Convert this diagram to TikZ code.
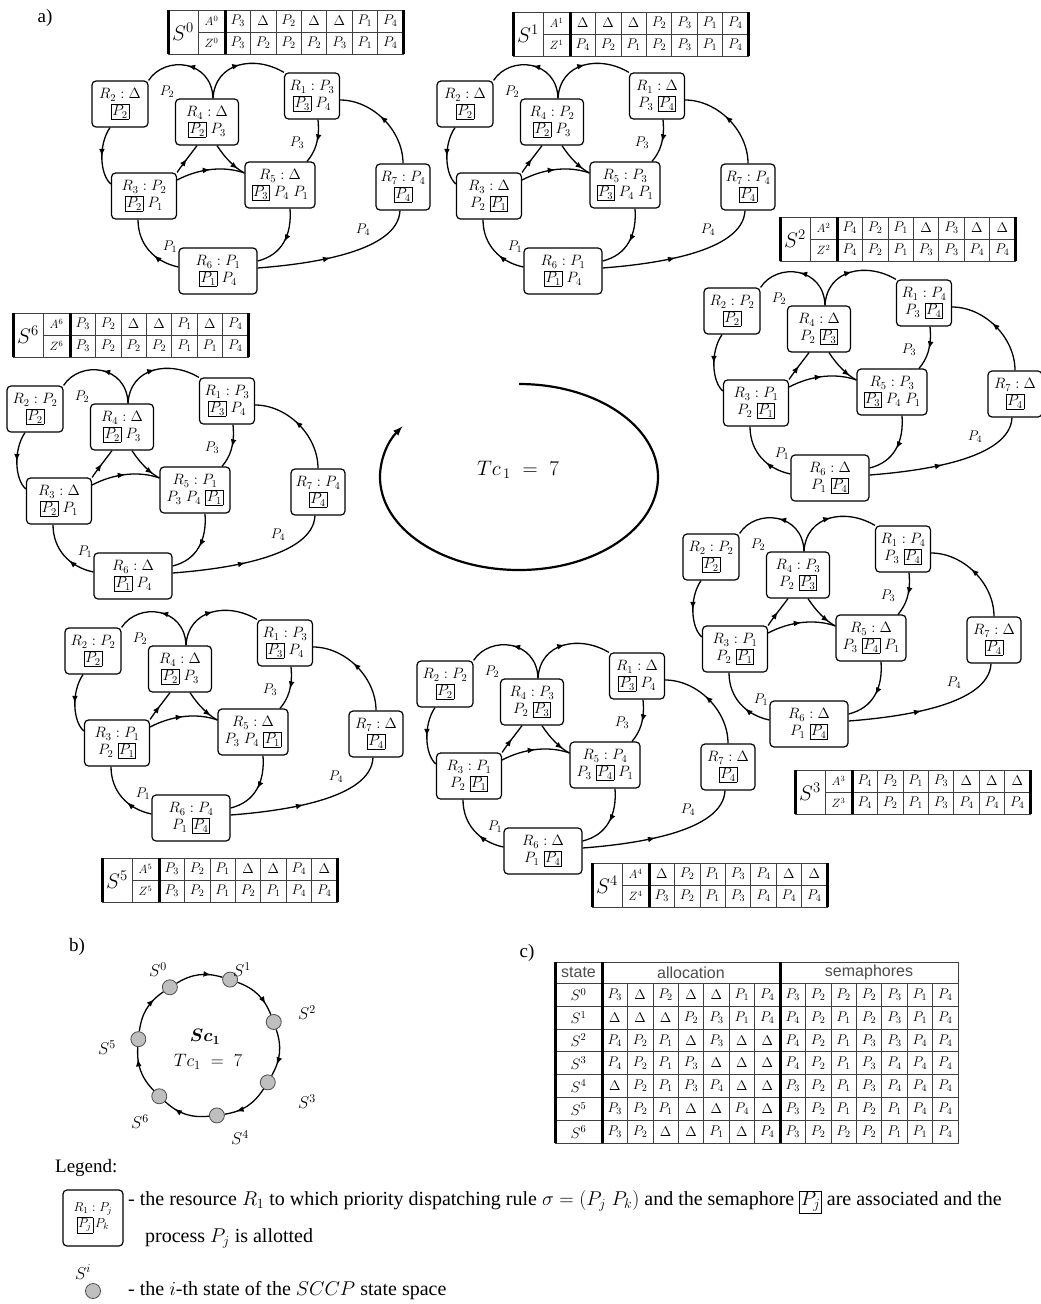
\documentclass[tikz,border=0pt]{standalone}
\usepackage{fix-cm}
\usepackage{amsmath,amssymb}
\usepackage{fontspec}
\setmainfont{Liberation Serif}
\setsansfont{Liberation Sans}
\usepackage{tikz}
\usetikzlibrary{arrows,positioning,calc,decorations.markings}

% semaphore box and two-line resource text
\newcommand{\sm}[1]{{\setlength{\fboxsep}{1pt}\setlength{\fboxrule}{0.5pt}\fbox{$#1$}}}
\newcommand{\restext}[3]{$R_{#1} : #2$\\$#3$}

% one state graph: name, shift, contents of R1..R7
\newcommand{\stategraph}[9]{%
  \begin{scope}[shift={#2}]
    \node[res, minimum width=55] (#1r1) at (312,96)  {\restext{1}#3};
    \node[res, minimum width=56] (#1r2) at (120,104) {\restext{2}#4};
    \node[res, minimum width=65] (#1r3) at (144,196) {\restext{3}#5};
    \node[res, minimum width=63] (#1r4) at (207,122) {\restext{4}#6};
    \node[res, minimum width=70] (#1r5) at (280,185) {\restext{5}#7};
    \node[res, minimum width=78] (#1r6) at (218,271) {\restext{6}#8};
    \node[res, minimum width=54] (#1r7) at (403,187) {\restext{7}#9};
    \draw[flow] ([xshift=6]#1r4.north) .. controls (212,60) and (165,55) .. (#1r2.north east);
    \draw[flow] ([xshift=6]#1r4.north) .. controls (215,62) and (255,55) .. (#1r1.north west);
    \draw[flow] ([xshift=-10]#1r2.south) .. controls (98,145) and (100,175) .. ([yshift=12]#1r3.west);
    \draw[flow] (#1r3.north east) .. controls (182,165) and (190,155) .. ([xshift=-10]#1r4.south);
    \draw[flow] ([yshift=16]#1r3.east) .. controls (200,168) and (225,166) .. ([yshift=12]#1r5.west);
    \draw[flow=0.8] ([xshift=10]#1r4.south) .. controls (225,158) and (235,168) .. ([yshift=12]#1r5.west);
    \draw[flow] ([xshift=6]#1r1.south) .. controls (320,140) and (315,152) .. ([xshift=27]#1r5.north);
    \draw[flow] ([xshift=10]#1r5.south) .. controls (292,235) and (282,255) .. ([yshift=10]#1r6.east);
    \draw[flow=0.4] ([yshift=4]#1r6.west) .. controls (155,262) and (138,245) .. ([xshift=-6]#1r3.south);
    \draw[flow=0.45] ([yshift=3]#1r6.east) .. controls (310,264) and (398,252) .. ([xshift=-3]#1r7.south);
    \draw[flow=0.55] (#1r7.north) .. controls (403,130) and (372,100) .. ([yshift=-4]#1r1.east);
    \node[lbl] (#1p2) at (167,92)  {$P_2$};
    \node[lbl] (#1p3) at (297,143) {$P_3$};
    \node[lbl] (#1p1) at (170,247) {$P_1$};
    \node[lbl] (#1p4) at (363,230) {$P_4$};
  \end{scope}}

% small state table: name, top left, index, allocation, semaphores
\newcommand{\statetable}[5]{%
  \begin{scope}[shift={#2}]
    \draw[grid] (0,0) rectangle (235,44);
    \draw[grid] (30,22) -- (235,22) (30,0) -- (30,44);
    \foreach \c in {1,...,6} \draw[grid] (57+25.43*\c,0) -- ++(0,44);
    \draw[heavy] (0,0) -- (0,44) (57,0) -- (57,44) (235,0) -- (235,44);
    \node[tcell, font=\fontsize{21}{21}\selectfont] (#1s) at (15,22) {$S^{#3}$};
    \node[tcell, font=\fontsize{12}{12}\selectfont] (#1a) at (43.5,11) {$A^{#3}$};
    \node[tcell, font=\fontsize{12}{12}\selectfont] (#1z) at (43.5,33) {$Z^{#3}$};
    \foreach \v [count=\c] in {#4} \node[tcell] (#1a\c) at (44.3+25.43*\c,11) {$\v$};
    \foreach \v [count=\c] in {#5} \node[tcell] (#1z\c) at (44.3+25.43*\c,33) {$\v$};
  \end{scope}}

\begin{document}
\begin{tikzpicture}[x=1pt, y=-1pt,
    res/.style={draw, rounded corners=4pt, line width=1.2pt, align=center, inner sep=2pt,
      minimum height=46, font=\fontsize{15}{17}\selectfont},
    lbl/.style={inner sep=1pt, font=\fontsize{14}{14}\selectfont},
    flow/.style={line width=1.3pt, postaction={decorate},
      decoration={markings, mark=at position #1 with {\arrow[scale=1.1]{latex}}}},
    flow/.default=0.5,
    cyc/.style={->, >=latex, line width=2.2pt},
    grid/.style={line width=0.6pt, black!75},
    heavy/.style={line width=3pt},
    tcell/.style={inner sep=0pt, font=\fontsize{14}{14}\selectfont},
    st/.style={circle, draw=black!70, fill=black!25, line width=0.8pt, minimum size=15, inner sep=0pt},
    txt/.style={inner sep=0pt, font=\fontsize{19}{19}\selectfont}
]
\fill[white] (0,0) rectangle (1041,1304);
\useasboundingbox (0,0) rectangle (1041,1304);

% a) the seven states of the cycle
\node[txt] (la) at (45,18) {a)};
\stategraph{g0}{(0,0)}{{P_3}{\sm{P_3}\;P_4}}{{\Delta}{\sm{P_2}}}{{P_2}{\sm{P_2}\;P_1}}{{\Delta}{\sm{P_2}\;P_3}}{{\Delta}{\sm{P_3}\;P_4\;P_1}}{{P_1}{\sm{P_1}\;P_4}}{{P_4}{\sm{P_4}}}
\stategraph{g1}{(345,0)}{{\Delta}{P_3\;\sm{P_4}}}{{\Delta}{\sm{P_2}}}{{\Delta}{P_2\;\sm{P_1}}}{{P_2}{\sm{P_2}\;P_3}}{{P_3}{\sm{P_3}\;P_4\;P_1}}{{P_1}{\sm{P_1}\;P_4}}{{P_4}{\sm{P_4}}}
\stategraph{g2}{(612,207)}{{P_4}{P_3\;\sm{P_4}}}{{P_2}{\sm{P_2}}}{{P_1}{P_2\;\sm{P_1}}}{{\Delta}{P_2\;\sm{P_3}}}{{P_3}{\sm{P_3}\;P_4\;P_1}}{{\Delta}{P_1\;\sm{P_4}}}{{\Delta}{\sm{P_4}}}
\stategraph{g3}{(591,453)}{{P_4}{P_3\;\sm{P_4}}}{{P_2}{\sm{P_2}}}{{P_1}{P_2\;\sm{P_1}}}{{P_3}{P_2\;\sm{P_3}}}{{\Delta}{P_3\;\sm{P_4}\;P_1}}{{\Delta}{P_1\;\sm{P_4}}}{{\Delta}{\sm{P_4}}}
\stategraph{g4}{(325,580)}{{\Delta}{\sm{P_3}\;P_4}}{{P_2}{\sm{P_2}}}{{P_1}{P_2\;\sm{P_1}}}{{P_3}{P_2\;\sm{P_3}}}{{P_4}{P_3\;\sm{P_4}\;P_1}}{{\Delta}{P_1\;\sm{P_4}}}{{\Delta}{\sm{P_4}}}
\stategraph{g5}{(-27,547)}{{P_3}{\sm{P_3}\;P_4}}{{P_2}{\sm{P_2}}}{{P_1}{P_2\;\sm{P_1}}}{{\Delta}{\sm{P_2}\;P_3}}{{\Delta}{P_3\;P_4\;\sm{P_1}}}{{P_4}{P_1\;\sm{P_4}}}{{\Delta}{\sm{P_4}}}
\stategraph{g6}{(-85,305)}{{P_3}{\sm{P_3}\;P_4}}{{P_2}{\sm{P_2}}}{{\Delta}{\sm{P_2}\;P_1}}{{\Delta}{\sm{P_2}\;P_3}}{{P_1}{P_3\;P_4\;\sm{P_1}}}{{\Delta}{\sm{P_1}\;P_4}}{{P_4}{\sm{P_4}}}

\statetable{t0}{(168,10)}{0}{P_3,\Delta,P_2,\Delta,\Delta,P_1,P_4}{P_3,P_2,P_2,P_2,P_3,P_1,P_4}
\statetable{t1}{(513,12)}{1}{\Delta,\Delta,\Delta,P_2,P_3,P_1,P_4}{P_4,P_2,P_1,P_2,P_3,P_1,P_4}
\statetable{t2}{(780,217)}{2}{P_4,P_2,P_1,\Delta,P_3,\Delta,\Delta}{P_4,P_2,P_1,P_3,P_3,P_4,P_4}
\statetable{t3}{(795,770)}{3}{P_4,P_2,P_1,P_3,\Delta,\Delta,\Delta}{P_4,P_2,P_1,P_3,P_4,P_4,P_4}
\statetable{t4}{(592,863)}{4}{\Delta,P_2,P_1,P_3,P_4,\Delta,\Delta}{P_3,P_2,P_1,P_3,P_4,P_4,P_4}
\statetable{t5}{(102,858)}{5}{P_3,P_2,P_1,\Delta,\Delta,P_4,\Delta}{P_3,P_2,P_1,P_2,P_1,P_4,P_4}
\statetable{t6}{(13,313)}{6}{P_3,P_2,\Delta,\Delta,P_1,\Delta,P_4}{P_3,P_2,P_2,P_2,P_1,P_1,P_4}

% cycle in the middle
\coordinate (cyc0) at (519,384);
\draw[cyc] (cyc0) arc[start angle=-90, end angle=213, x radius=139, y radius=93];
\node[font=\fontsize{21}{21}\selectfont] (tc) at (518,470) {$Tc_{\,1}\;=\;7$};

% b) the cycle of states
\node[txt] (lb) at (77,947) {b)};
\foreach \n/\a in {0/-123, 1/-71.6, 2/-20.1, 3/31.3, 4/82.7, 6/134.1, 5/185.6}
  \node[st] (b\n) at ($(208,1046)+(\a:70)$) {};
\draw[flow=0.75] (b0) to[bend left=24] (b1);
\draw[flow=0.75] (b1) to[bend left=24] (b2);
\draw[flow=0.75] (b2) to[bend left=24] (b3);
\draw[flow=0.75] (b3) to[bend left=24] (b4);
\draw[flow=0.75] (b4) to[bend left=24] (b6);
\draw[flow=0.75] (b6) to[bend left=24] (b5);
\draw[flow=0.75] (b5) to[bend left=24] (b0);
\node[lbl, font=\fontsize{17}{17}\selectfont] (sb0) at (158,970) {$S^0$};
\node[lbl, font=\fontsize{17}{17}\selectfont] (sb1) at (242,970) {$S^1$};
\node[lbl, font=\fontsize{17}{17}\selectfont] (sb2) at (307,1013) {$S^2$};
\node[lbl, font=\fontsize{17}{17}\selectfont] (sb3) at (307,1102) {$S^3$};
\node[lbl, font=\fontsize{17}{17}\selectfont] (sb4) at (240,1138) {$S^4$};
\node[lbl, font=\fontsize{17}{17}\selectfont] (sb6) at (140,1122) {$S^6$};
\node[lbl, font=\fontsize{17}{17}\selectfont] (sb5) at (107,1048) {$S^5$};
\node[lbl, font=\fontsize{18}{18}\selectfont] (sc) at (205,1037) {$\boldsymbol{Sc_1}$};
\node[lbl, font=\fontsize{18}{18}\selectfont] (tcb) at (208,1062) {$Tc_1\;=\;7$};

% c) table of all states
\node[txt] (lc) at (527,953) {c)};
\draw[grid] (555,962) rectangle (958,1143);
\draw[grid] (555,983) -- (958,983);
\foreach \r in {1,...,6} \draw[grid] (555,983+22.9*\r) -- (958,983+22.9*\r);
\foreach \c in {1,...,6} {
  \draw[grid] (602+25.43*\c,983) -- ++(0,160);
  \draw[grid] (780+25.43*\c,983) -- ++(0,160);
}
\draw[heavy] (555,962) -- (555,1143) (602,962) -- (602,1143) (780,962) -- (780,1143);
\node[font=\sffamily\fontsize{16}{16}\selectfont, black!70] (hst) at (578.5,972.5) {state};
\node[font=\sffamily\fontsize{16}{16}\selectfont, black!70] (hal) at (691,972.5) {allocation};
\node[font=\sffamily\fontsize{16}{16}\selectfont, black!70] (hse) at (869,972.5) {semaphores};
\foreach \k/\al/\se in {
    0/{P_3,\Delta,P_2,\Delta,\Delta,P_1,P_4}/{P_3,P_2,P_2,P_2,P_3,P_1,P_4},
    1/{\Delta,\Delta,\Delta,P_2,P_3,P_1,P_4}/{P_4,P_2,P_1,P_2,P_3,P_1,P_4},
    2/{P_4,P_2,P_1,\Delta,P_3,\Delta,\Delta}/{P_4,P_2,P_1,P_3,P_3,P_4,P_4},
    3/{P_4,P_2,P_1,P_3,\Delta,\Delta,\Delta}/{P_4,P_2,P_1,P_3,P_4,P_4,P_4},
    4/{\Delta,P_2,P_1,P_3,P_4,\Delta,\Delta}/{P_3,P_2,P_1,P_3,P_4,P_4,P_4},
    5/{P_3,P_2,P_1,\Delta,\Delta,P_4,\Delta}/{P_3,P_2,P_1,P_2,P_1,P_4,P_4},
    6/{P_3,P_2,\Delta,\Delta,P_1,\Delta,P_4}/{P_3,P_2,P_2,P_2,P_1,P_1,P_4}} {
  \node[tcell, font=\fontsize{15}{15}\selectfont] (cs\k) at (578.5,994.5+22.9*\k) {$S^{\k}$};
  \foreach \v [count=\c] in \al \node[tcell] (ca\k\c) at (589.3+25.43*\c,994.5+22.9*\k) {$\v$};
  \foreach \v [count=\c] in \se \node[tcell] (cz\k\c) at (767.3+25.43*\c,994.5+22.9*\k) {$\v$};
}

% legend
\node[txt, anchor=west] (lg) at (55,1168) {Legend:};
\node[res, minimum width=60, minimum height=56, inner sep=1pt, font=\fontsize{13}{16}\selectfont] (lgbox) at (93,1218)
  {$R_1 : P_j$\\$\sm{P_j}\,P_k$};
\node[txt, anchor=west, font=\fontsize{20}{20}\selectfont] (lg1) at (128,1202) {- the resource $R_1$ to which priority dispatching rule $\sigma = (P_j\;P_k)$ and the semaphore \sm{P_j} are associated and the};
\node[txt, anchor=west, font=\fontsize{20}{20}\selectfont] (lg2) at (145,1238) {process $P_j$ is allotted};
\node[lbl, font=\fontsize{17}{17}\selectfont] (lgs) at (83,1272) {$S^i$};
\node[st] (lgst) at (93,1291) {};
\node[txt, anchor=west, font=\fontsize{20}{20}\selectfont] (lg3) at (128,1291) {- the $i$-th state of the $SCCP$ state space};
\end{tikzpicture}
\end{document}
